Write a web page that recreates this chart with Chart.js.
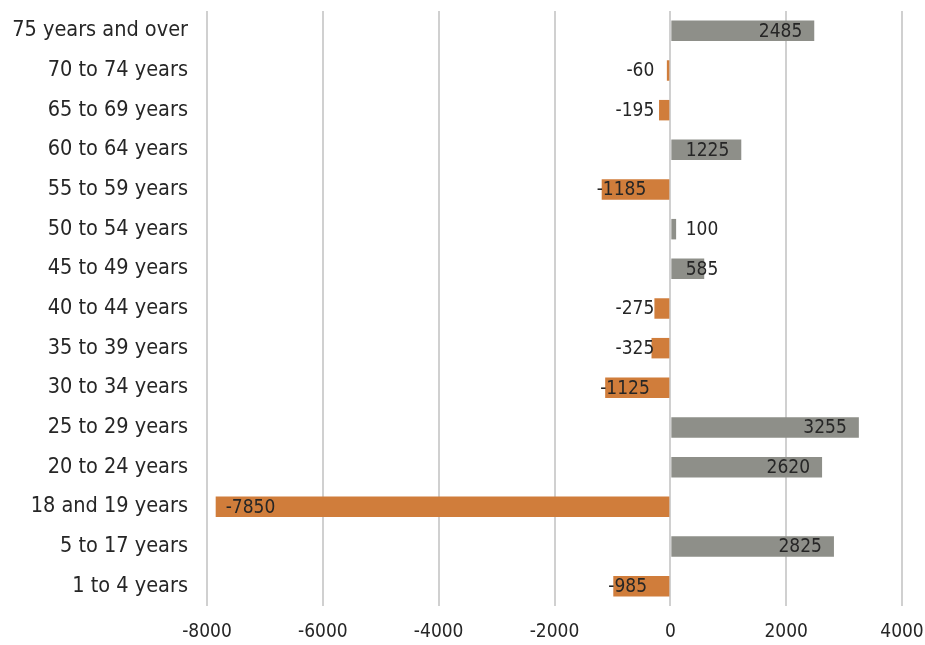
<!DOCTYPE html>
<html><head><meta charset="utf-8">
<script src="https://cdn.jsdelivr.net/npm/chart.js@4/dist/chart.umd.min.js"></script>
<style>html,body{margin:0;padding:0;background:#fff}#wrap{width:925px;height:645px}</style>
</head><body><div id="wrap"><canvas id="c" width="925" height="645"></canvas></div>
<script>
const categories = ["75 years and over","70 to 74 years","65 to 69 years","60 to 64 years","55 to 59 years","50 to 54 years","45 to 49 years","40 to 44 years","35 to 39 years","30 to 34 years","25 to 29 years","20 to 24 years","18 and 19 years","5 to 17 years","1 to 4 years"];
const values = [2485,-60,-195,1225,-1185,100,585,-275,-325,-1125,3255,2620,-7850,2825,-985];
const xTicks = [-8000,-6000,-4000,-2000,0,2000,4000];
const FONT = '"DejaVu Sans Condensed","Liberation Sans Narrow",sans-serif';
const POS = '#8e8f89', NEG = '#d07d3b';

const labelPlugin = {
  id:'lbls',
  afterDatasetsDraw(chart){
    const ctx = chart.ctx, meta = chart.getDatasetMeta(0), xs = chart.scales.x;
    const zero = xs.getPixelForValue(0);
    ctx.save();
    ctx.font = '19px ' + FONT;
    ctx.fillStyle = '#262626';
    ctx.textBaseline = 'middle';
    meta.data.forEach((bar,i)=>{
      const v = values[i];
      const end = xs.getPixelForValue(v);
      if (v >= 0){
        ctx.textAlign = 'right';
        ctx.fillText(String(v), Math.max(end - 12, zero + 48), bar.y + 1);
      } else {
        ctx.textAlign = 'left';
        const w = ctx.measureText(String(v)).width;
        let left = Math.min(end - 5, zero - 16 - w);
        if (v < -5000) left = end + 10;
        ctx.fillText(String(v), left, bar.y + 1);
      }
    });
    ctx.restore();
  }
};

new Chart(document.getElementById('c'), {
  type:'bar',
  data:{labels:categories, datasets:[{data:values,
    backgroundColor: values.map(v => v < 0 ? NEG : POS),
    barPercentage:0.6, categoryPercentage:0.86, borderWidth:0}]},
  options:{
    indexAxis:'y', responsive:false, animation:false,
    layout:{padding:{top:11,right:23,left:0,bottom:0}},
    plugins:{legend:{display:false}, tooltip:{enabled:false}},
    scales:{
      x:{min:-8000,max:4000,
        afterBuildTicks(s){ s.ticks = xTicks.map(v=>({value:v})); },
        afterFit(s){ s.height = 39; s.paddingLeft = 0; s.paddingRight = 0; s.paddingTop = 0; s.paddingBottom = 0; },
        grid:{color:'#d0d0d0', lineWidth:2, drawTicks:false},
        border:{display:false},
        ticks:{padding:15, color:'#262626', font:{family:FONT, size:19}, callback:(v)=>String(v)}
      },
      y:{
        afterFit(s){ s.width = 207; s.paddingTop = 0; s.paddingBottom = 0; s.paddingLeft = 0; s.paddingRight = 0; },
        grid:{display:false, drawTicks:false},
        border:{display:false},
        ticks:{padding:19, color:'#262626', font:{family:FONT, size:21.5}}
      }
    }
  },
  plugins:[labelPlugin]
});
</script></body></html>
